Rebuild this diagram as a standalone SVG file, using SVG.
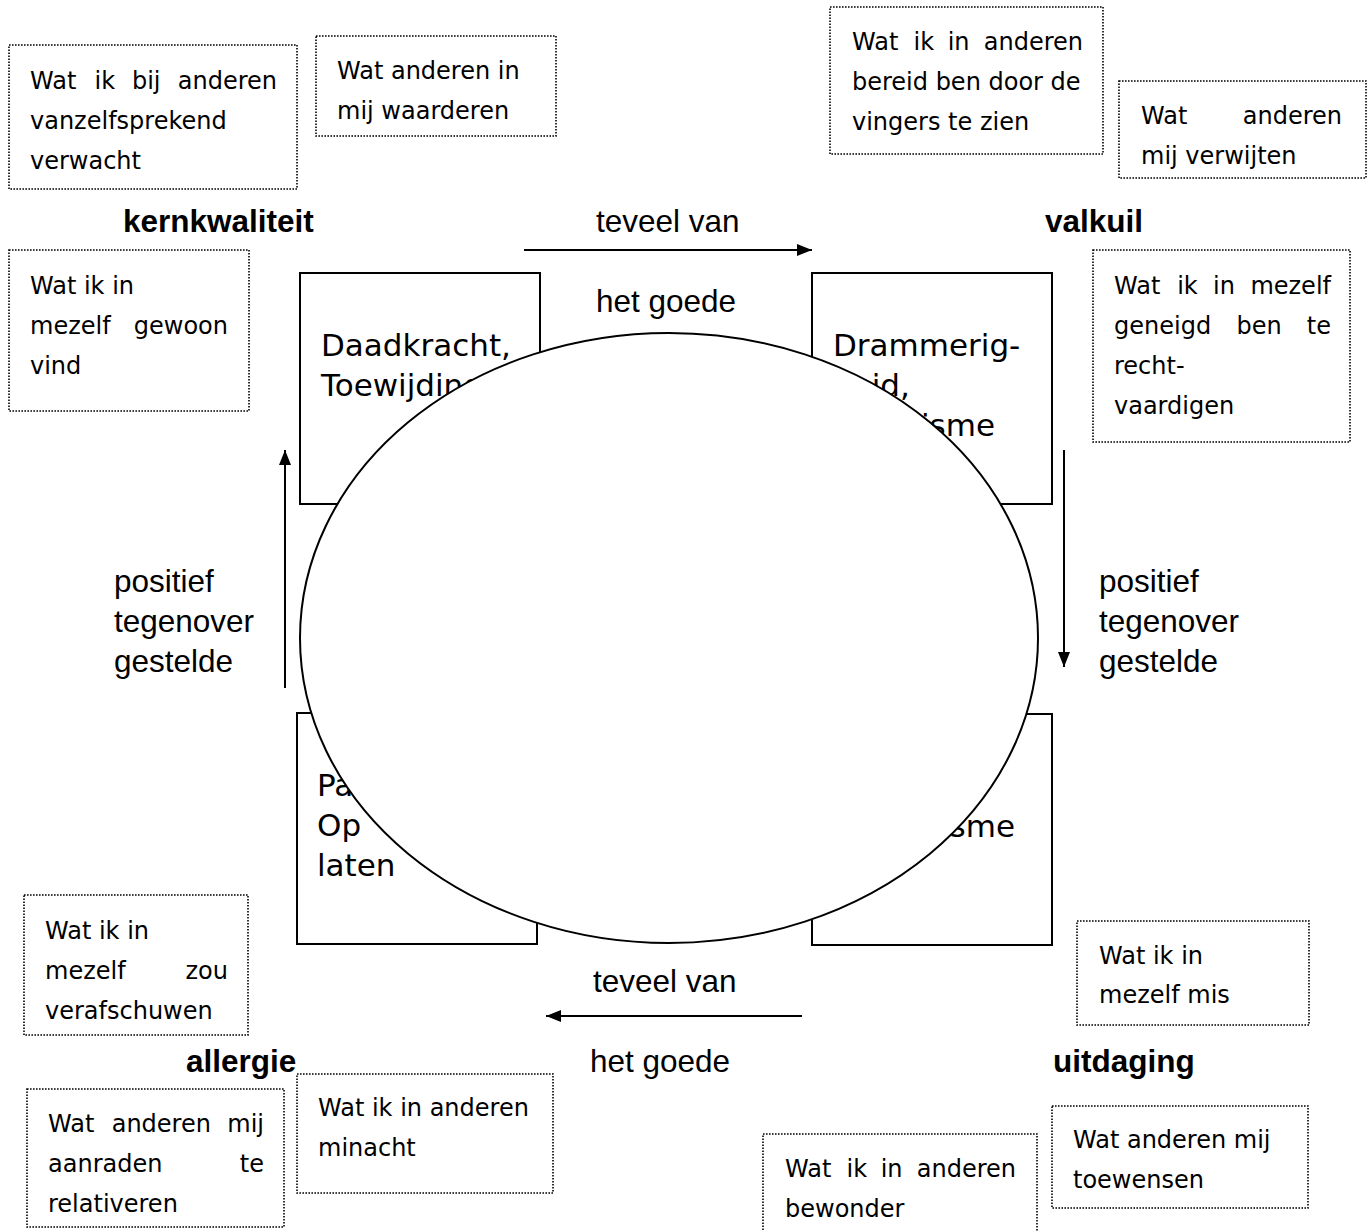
<svg xmlns="http://www.w3.org/2000/svg" width="1367" height="1231" viewBox="0 0 1367 1231">
<style>
.dot{fill:#fff;stroke:#000;stroke-width:1.6;stroke-dasharray:1.6 1.4}
.sm{font-family:"DejaVu Sans",Verdana,sans-serif;font-size:24px;fill:#000}
.q{font-family:"DejaVu Sans",Verdana,sans-serif;font-size:31px;fill:#000}
.lb{font-family:"Liberation Sans",Arial,sans-serif;font-size:31.5px;fill:#000}
.b{font-weight:bold}
.box{fill:#fff;stroke:#000;stroke-width:2}
.ar{stroke:#000;stroke-width:2;fill:none;marker-end:url(#ah)}
</style>
<defs>
<marker id="ah" markerUnits="userSpaceOnUse" markerWidth="15" markerHeight="12" refX="15" refY="6" orient="auto">
<path d="M0,0 L15,6 L0,12 z" fill="#000"/>
</marker>
</defs>
<rect width="1367" height="1231" fill="#fff"/>

<g id="q-kernkwaliteit">
<rect class="box" x="300" y="273" width="240" height="231"/>
<text class="q" x="321" y="356">Daadkracht,</text>
<text class="q" x="321" y="396">Toewijding</text>
</g>
<g id="q-valkuil">
<rect class="box" x="812" y="273" width="240" height="231"/>
<text class="q" x="833" y="356">Drammerig-</text>
<text class="q" x="833" y="396">heid,</text>
<text class="q" x="995" y="436" text-anchor="end">Fanatisme</text>
</g>
<g id="q-allergie">
<rect class="box" x="297" y="713" width="240" height="231"/>
<text class="q" x="317" y="796">Passiviteit,</text>
<text class="q" x="317" y="836">Op</text>
<text class="q" x="317" y="876">laten</text>
</g>
<g id="q-uitdaging">
<rect class="box" x="812" y="714" width="240" height="231"/>
<text class="q" x="1015" y="837" text-anchor="end">Relativisme</text>
</g>

<g id="center">
<ellipse cx="669" cy="638" rx="369" ry="305" fill="#fff" stroke="#000" stroke-width="2"/>
</g>

<g id="connectors">
<line class="ar" x1="524" y1="250" x2="812" y2="250"/>
<line class="ar" x1="1064" y1="450" x2="1064" y2="667"/>
<line class="ar" x1="802" y1="1016" x2="546" y2="1016"/>
<line class="ar" x1="285" y1="688" x2="285" y2="450"/>
</g>

<g id="labels">
<text class="lb b" x="123" y="232">kernkwaliteit</text>
<text class="lb b" x="1045" y="232">valkuil</text>
<text class="lb b" x="186" y="1072">allergie</text>
<text class="lb b" x="1053" y="1072">uitdaging</text>
<text class="lb" x="596" y="232">teveel van</text>
<text class="lb" x="596" y="312">het goede</text>
<text class="lb" x="593" y="992">teveel van</text>
<text class="lb" x="590" y="1072">het goede</text>
<text class="lb" x="114" y="592">positief</text>
<text class="lb" x="114" y="632">tegenover</text>
<text class="lb" x="114" y="672">gestelde</text>
<text class="lb" x="1099" y="592">positief</text>
<text class="lb" x="1099" y="632">tegenover</text>
<text class="lb" x="1099" y="672">gestelde</text>
</g>

<g id="n1">
<rect class="dot" x="9" y="45" width="288" height="144"/>
<text class="sm" y="89"><tspan x="30">Wat</tspan><tspan x="94.6">ik</tspan><tspan x="131.9">bij</tspan><tspan x="277" text-anchor="end">anderen</tspan></text>
<text class="sm" x="30" y="129">vanzelfsprekend</text>
<text class="sm" x="30" y="169">verwacht</text>
</g>
<g id="n2">
<rect class="dot" x="316" y="36" width="240" height="100"/>
<text class="sm" x="337" y="79">Wat anderen in</text>
<text class="sm" x="337" y="119">mij waarderen</text>
</g>
<g id="n3">
<rect class="dot" x="830" y="7" width="273" height="147"/>
<text class="sm" y="50"><tspan x="852">Wat</tspan><tspan x="913.5">ik</tspan><tspan x="947.7">in</tspan><tspan x="1083" text-anchor="end">anderen</tspan></text>
<text class="sm" x="852" y="90">bereid ben door de</text>
<text class="sm" x="852" y="130">vingers te zien</text>
</g>
<g id="n4">
<rect class="dot" x="1119" y="81" width="247" height="97"/>
<text class="sm" y="124"><tspan x="1141">Wat</tspan><tspan x="1342" text-anchor="end">anderen</tspan></text>
<text class="sm" x="1141" y="164">mij verwijten</text>
</g>
<g id="n5">
<rect class="dot" x="9" y="250" width="240" height="161"/>
<text class="sm" x="30" y="294">Wat ik in</text>
<text class="sm" y="334"><tspan x="30">mezelf</tspan><tspan x="228" text-anchor="end">gewoon</tspan></text>
<text class="sm" x="30" y="374">vind</text>
</g>
<g id="n6">
<rect class="dot" x="1093" y="250" width="257" height="192"/>
<text class="sm" y="294"><tspan x="1114">Wat</tspan><tspan x="1177.2">ik</tspan><tspan x="1213.1">in</tspan><tspan x="1331" text-anchor="end">mezelf</tspan></text>
<text class="sm" y="334"><tspan x="1114">geneigd</tspan><tspan x="1236.4">ben</tspan><tspan x="1331" text-anchor="end">te</tspan></text>
<text class="sm" x="1114" y="374">recht-</text>
<text class="sm" x="1114" y="414">vaardigen</text>
</g>
<g id="n7">
<rect class="dot" x="24" y="895" width="224" height="140"/>
<text class="sm" x="45" y="939">Wat ik in</text>
<text class="sm" y="979"><tspan x="45">mezelf</tspan><tspan x="228" text-anchor="end">zou</tspan></text>
<text class="sm" x="45" y="1019">verafschuwen</text>
</g>
<g id="n8">
<rect class="dot" x="1077" y="921" width="232" height="104"/>
<text class="sm" x="1099" y="964">Wat ik in</text>
<text class="sm" x="1099" y="1003">mezelf mis</text>
</g>
<g id="n9">
<rect class="dot" x="27" y="1089" width="257" height="138"/>
<text class="sm" y="1132"><tspan x="48">Wat</tspan><tspan x="111.7">anderen</tspan><tspan x="264" text-anchor="end">mij</tspan></text>
<text class="sm" y="1172"><tspan x="48">aanraden</tspan><tspan x="264" text-anchor="end">te</tspan></text>
<text class="sm" x="48" y="1212">relativeren</text>
</g>
<g id="n10">
<rect class="dot" x="297" y="1074" width="256" height="119"/>
<text class="sm" x="318" y="1116">Wat ik in anderen</text>
<text class="sm" x="318" y="1156">minacht</text>
</g>
<g id="n11">
<rect class="dot" x="763" y="1134" width="274" height="110"/>
<text class="sm" y="1177"><tspan x="785">Wat</tspan><tspan x="846.5">ik</tspan><tspan x="880.7">in</tspan><tspan x="1016" text-anchor="end">anderen</tspan></text>
<text class="sm" x="785" y="1217">bewonder</text>
</g>
<g id="n12">
<rect class="dot" x="1052" y="1106" width="256" height="102"/>
<text class="sm" x="1073" y="1148">Wat anderen mij</text>
<text class="sm" x="1073" y="1188">toewensen</text>
</g>
</svg>
